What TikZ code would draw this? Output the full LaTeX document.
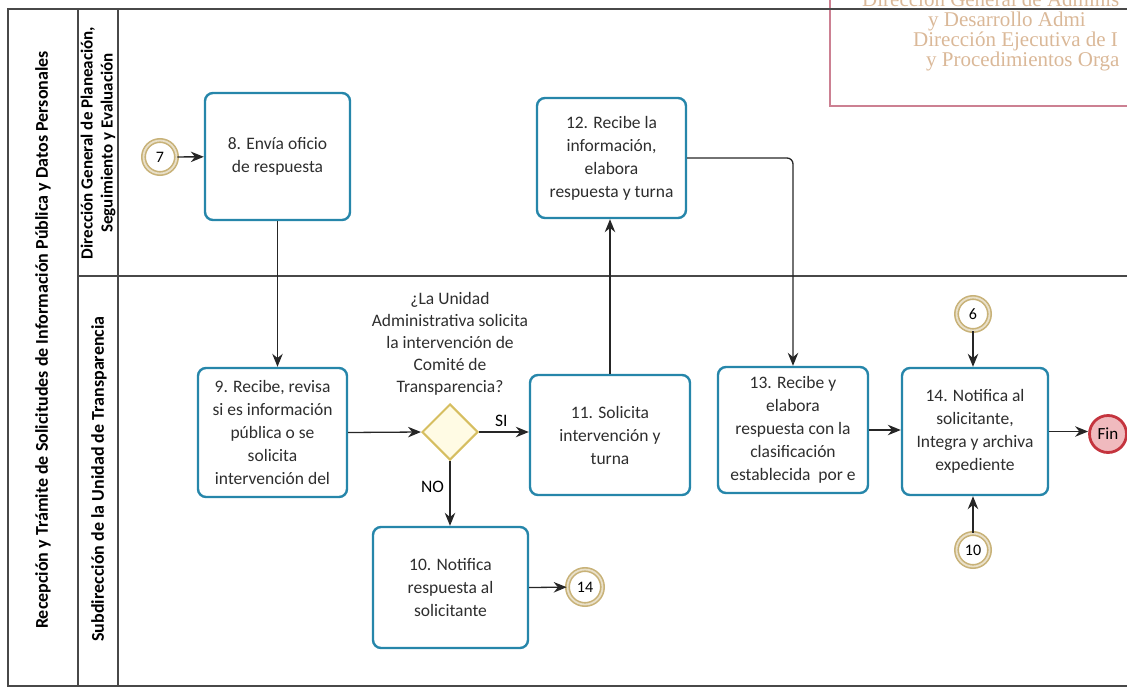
\documentclass[tikz,border=0pt]{standalone}
\usepackage{fontspec}
\setmainfont{Carlito}
\newfontfamily\stampfont{Liberation Serif}
\usetikzlibrary{arrows.meta,positioning,shapes.geometric}
\definecolor{taskblue}{RGB}{38,134,170}
\definecolor{ringtan}{RGB}{200,178,120}
\definecolor{gateyellow}{RGB}{214,190,96}
\definecolor{gatefill}{RGB}{255,251,228}
\definecolor{endred}{RGB}{196,52,62}
\definecolor{endfill}{RGB}{240,186,190}
\definecolor{stampline}{RGB}{204,128,146}
\definecolor{stamptext}{RGB}{218,184,152}
\definecolor{frameline}{RGB}{72,72,72}

\begin{document}
\begin{tikzpicture}[
  x=1pt, y=-1pt,
  font=\fontsize{17.5}{23}\selectfont,
  >={Stealth[length=13pt,width=10.5pt]},
  task/.style={draw=taskblue, line width=2.4pt, rounded corners=8pt, fill=white,
    align=center, inner sep=2pt, text=black!82},
  link/.style={->, draw=black!85, line width=1.3pt},
  offpage/.style={circle, draw=ringtan, line width=1.6pt, double=ringtan!40,
    double distance=1.8pt, fill=white, minimum size=33pt, inner sep=0pt,
    font=\fontsize{16}{16}\selectfont},
  gateway/.style={diamond, draw=gateyellow, line width=2pt, fill=gatefill,
    minimum width=56pt, minimum height=56pt, inner sep=0pt},
  finish/.style={circle, draw=endred, line width=2.8pt, fill=endfill,
    minimum size=37pt, inner sep=0pt, font=\fontsize{17}{17}\selectfont},
  header/.style={rotate=90, font=\bfseries\fontsize{17}{20}\selectfont, align=center},
  lanes/.style={draw=frameline, line width=1.1pt}
]
  \useasboundingbox (0,0) rectangle (1127,688);
  \clip (0,0) rectangle (1127,688);

  % stamp in the upper right corner
  \draw[stampline, line width=1.6pt] (830,-5) -- (830,106) -- (1135,106);
  \begin{scope}[every node/.style={anchor=base west, inner sep=0pt, text=stamptext,
      font=\stampfont\fontsize{21}{21}\selectfont}]
    \node (st1) at (862,6) {Dirección General de Adminis};
    \node (st2) at (928,27) {y Desarrollo Admi};
    \node (st3) at (913,46) {Dirección Ejecutiva de I};
    \node (st4) at (926,66) {y Procedimientos Orga};
  \end{scope}

  % pool and lanes
  \draw[lanes, line width=1.5pt] (1127,9) -- (8,9) -- (8,686) -- (1127,686);
  \draw[lanes] (78,9) -- (78,686);
  \draw[lanes] (118,9) -- (118,686);
  \draw[lanes] (78,276) -- (1127,276);
  \node[header, font=\bfseries\fontsize{18}{20}\selectfont] (pool) at (43,340)
    {Recepción y Trámite de Solicitudes de Información Pública y Datos Personales};
  \node[header] (lane1) at (98,143) {Dirección General de Planeación,\\Seguimiento y Evaluación};
  \node[header, font=\bfseries\fontsize{18}{20}\selectfont] (lane2) at (99,479)
    {Subdirección de la Unidad de Transparencia};

  % tasks
  \node[task, minimum width=145pt, minimum height=127pt] (t8) at (277.5,156.5)
    {8. Envía oficio\\de respuesta};
  \node[task, minimum width=149pt, minimum height=120pt] (t12) at (611.5,158)
    {12. Recibe la\\información,\\elabora\\respuesta y turna};
  \node[task, minimum width=149pt, minimum height=129pt] (t9) at (272.5,432.5)
    {9. Recibe, revisa\\si es información\\pública o se\\solicita\\intervención del};
  \node[task, minimum width=160pt, minimum height=120pt] (t11) at (610,435)
    {11. Solicita\\intervención y\\turna};
  \node[task, minimum width=150pt, minimum height=126pt] (t13) at (793,430)
    {13. Recibe y\\elabora\\respuesta con la\\clasificación\\establecida~ por e};
  \node[task, minimum width=146pt, minimum height=127pt] (t14) at (975,431.5)
    {14. Notifica al\\solicitante,\\Integra y archiva\\expediente};
  \node[task, minimum width=155pt, minimum height=121pt] (t10) at (450.5,587.5)
    {10. Notifica\\respuesta al\\solicitante};

  % gateway, events and links
  \node[gateway] (gw) at (450,432) {};
  \node[align=center, text=black!82, font=\fontsize{17.5}{22}\selectfont] (ask) at (450,344)
    {¿La Unidad\\Administrativa solicita\\la intervención de\\Comité de\\Transparencia?};
  \node[offpage] (e7) at (160,157) {7};
  \node[offpage] (e6) at (973,314) {6};
  \node[offpage] (e10) at (973,550) {10};
  \node[offpage, minimum size=35pt] (e14) at (585,587) {14};
  \node[finish] (fin) at (1108,434) {Fin};

  \draw[link] (e7) -- (t8);
  \draw[link] (t8.south) -- (t8.south |- t9.north);
  \draw[link] (t9.east) -- (gw.west);
  \draw[link] (gw.east) -- (gw.east -| t11.west) node[pos=.45, above=1pt] (si) {SI};
  \draw[link] (gw.south) -- (gw.south |- t10.north) node[pos=.4, left=2pt] (no) {NO};
  \draw[link] (t10.east) -- (e14);
  \draw[link] (t11.north) -- (t11.north |- t12.south);
  \draw[link, rounded corners=6pt] (t12.east) -| (t13.north);
  \draw[link] (t13.east) -- (t13.east -| t14.west);
  \draw[link] (e6) -- (e6 |- t14.north);
  \draw[link] (e10) -- (e10 |- t14.south);
  \draw[link] (t14.east) -- (t14.east -| fin.west);
\end{tikzpicture}
\end{document}
